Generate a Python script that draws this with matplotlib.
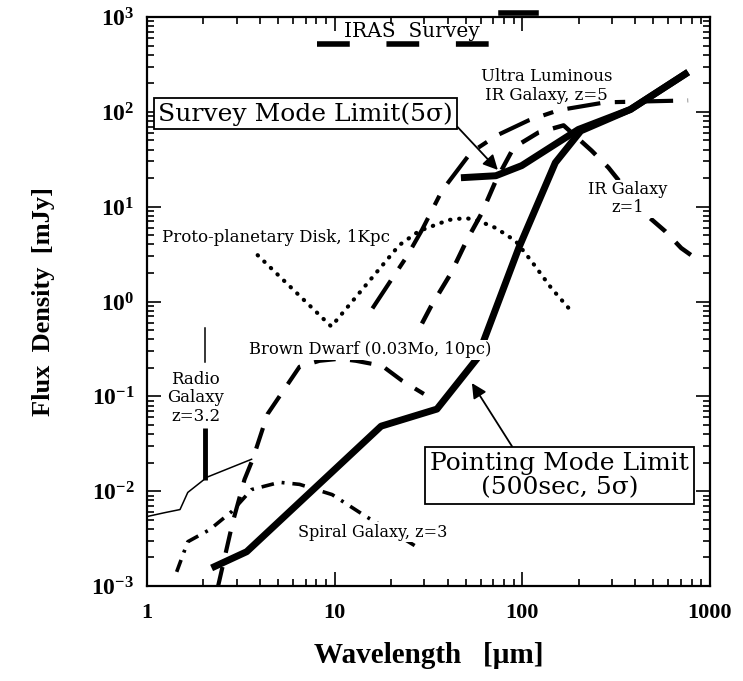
import numpy as np
import matplotlib.pyplot as plt

plt.rcParams['mathtext.fontset'] = 'custom'
plt.rcParams['mathtext.rm'] = 'Liberation Serif'
plt.rcParams['mathtext.bf'] = 'Liberation Serif:bold'

# wavelength [um] / flux density [mJy]
pointing_x = [2.21, 3.40, 17.7, 35.1, 57.3, 95.7, 150, 205, 377, 765]
pointing_y = [0.00155, 0.0023, 0.0485, 0.0734, 0.249, 3.66, 29.1, 63, 106, 262]

survey_x = [47.1, 72.3, 99.3, 199, 377, 765]
survey_y = [20.2, 21.2, 27.1, 65.2, 106, 262]

radio_x = [1.0, 1.246, 1.50, 1.65, 1.96, 2.08, 3.61]
radio_y = [0.0054, 0.00594, 0.0064, 0.0097, 0.0127, 0.014, 0.0217]
radio_bar_x = [2.03, 2.03]
radio_bar_y = [0.013, 0.046]
radio_tick_y = [0.23, 0.52]

brown_x = [2.38, 2.86, 3.31, 3.66, 4.39, 5.27, 6.5, 8.3, 10.6, 13.0, 17.9, 22.9, 29.9]
brown_y = [0.00095, 0.00465, 0.0133, 0.0217, 0.065, 0.111, 0.205, 0.237, 0.249, 0.237, 0.21, 0.146, 0.106]

spiral_x = [1.44, 1.65, 2.16, 2.83, 3.61, 5.09, 6.5, 9.7, 14.7, 19.5, 28.2]
spiral_y = [0.00141, 0.00293, 0.00393, 0.0061, 0.0104, 0.0124, 0.0118, 0.0092, 0.0054, 0.0039, 0.0025]

disk_x = [3.89, 9.6, 22.1, 28.2, 40.6, 50, 58.7, 72.3, 92.2, 112, 143, 183]
disk_y = [3.08, 0.545, 3.93, 5.54, 7.25, 7.6, 7.07, 5.96, 4.34, 2.66, 1.38, 0.786]

ulirg_x = [15.9, 20.3, 24.3, 29.2, 37.3, 53.2, 73.1, 108, 156, 277, 765]
ulirg_y = [0.845, 1.76, 3.0, 5.68, 14.7, 37.2, 56.4, 81.3, 104, 126, 132]

irgal_x = [29.2, 32.6, 41.7, 50.7, 60.9, 72.3, 90, 122, 166, 234, 288, 458, 578, 703, 865]
irgal_y = [0.586, 0.887, 1.99, 4.45, 8.6, 18.8, 42, 60.6, 72, 39, 25.8, 8.2, 5.5, 3.66, 2.73]

iras_x = [8.1, 68.8]
iras_y = [520, 520]
iras_top_x = [76.8, 119]
iras_top_y = [1100, 1100]

fig = plt.figure(figsize=(7.43, 6.81), dpi=100)
ax = fig.add_axes([0.1978, 0.1395, 0.7577, 0.8355])
ax.set_xscale('log')
ax.set_yscale('log')
ax.set_xlim(1, 1000)
ax.set_ylim(1e-3, 1e3)

ax.plot(pointing_x, pointing_y, color='black', lw=5, solid_capstyle='butt', zorder=5)
ax.plot(survey_x, survey_y, color='black', lw=5, solid_capstyle='butt', zorder=5)
ax.plot(radio_x, radio_y, color='black', lw=1.1)
ax.plot(radio_bar_x, radio_bar_y, color='black', lw=3.5, solid_capstyle='butt')
ax.plot(radio_bar_x, radio_tick_y, color='black', lw=1.1)
ax.plot(brown_x, brown_y, color='black', lw=3, linestyle=(0, (5.2, 3.5)))
ax.plot(spiral_x, spiral_y, color='black', lw=2.6, linestyle=(0, (3.5, 2.2, 0.8, 2.2)))
ax.plot(disk_x, disk_y, color='black', lw=3, linestyle=(0, (0.1, 2.1)),
        dash_capstyle='round')
ax.plot(ulirg_x, ulirg_y, color='black', lw=3, linestyle=(0, (8, 3.5, 2.5, 3.5)))
ax.plot(irgal_x, irgal_y, color='black', lw=3.2, linestyle=(0, (4.5, 3.3)))
ax.plot(iras_x, iras_y, color='black', lw=4, linestyle=(0, (5.9, 6.6)), solid_capstyle='butt')
ax.plot(iras_top_x, iras_top_y, color='black', lw=4, clip_on=False)

tf = dict(family='DejaVu Serif', color='black')
wb = dict(boxstyle='square,pad=0.08', fc='white', ec='none')
ax.text(25.8, 700, 'IRAS  Survey', fontsize=14.5, ha='center', va='center', **tf)
ax.text(135, 188, 'Ultra Luminous\nIR Galaxy, z=5', fontsize=12, ha='center',
        va='center', linespacing=1.1, **tf)
ax.text(365, 12.1, 'IR Galaxy\nz=1', fontsize=11.7, ha='center', va='center',
        linespacing=1.1, bbox=wb, zorder=6, **tf)
ax.text(1.2, 4.69, 'Proto-planetary Disk, 1Kpc', fontsize=12, ha='left',
        va='center', **tf)
ax.text(3.5, 0.31, 'Brown Dwarf (0.03Mo, 10pc)', fontsize=11.8, ha='left', va='center',
        bbox=wb, zorder=6, **tf)
ax.text(1.82, 0.0962, 'Radio\nGalaxy\nz=3.2', fontsize=12, ha='center', va='center',
        linespacing=1.1, **tf)
ax.text(6.37, 0.00371, 'Spiral Galaxy, z=3', fontsize=11.5, ha='left', va='center',
        bbox=wb, zorder=6, **tf)

ax.annotate('Survey Mode Limit(5σ)', xy=(74.1, 24.4), xytext=(7.0, 95.3),
            fontsize=18, ha='center', va='center', family='DejaVu Serif',
            bbox=dict(boxstyle='square,pad=0.15', fc='white', ec='black', lw=1.3),
            arrowprops=dict(arrowstyle='-|>', color='black', lw=1.3,
                            mutation_scale=22, relpos=(1.0, 0.15), shrinkA=0, shrinkB=0),
            zorder=7)
ax.annotate('Pointing Mode Limit\n(500sec, 5σ)', xy=(53.9, 0.138), xytext=(158.6, 0.0145),
            fontsize=18, ha='center', va='center', family='DejaVu Serif',
            linespacing=1.05,
            bbox=dict(boxstyle='square,pad=0.2', fc='white', ec='black', lw=1.3),
            arrowprops=dict(arrowstyle='-|>', color='black', lw=1.3,
                            mutation_scale=22, relpos=(0.33, 1.0), shrinkA=0, shrinkB=0),
            zorder=7)

ax.tick_params(which='both', direction='in', top=True, right=True, width=1.2)
ax.tick_params(which='major', length=10)
ax.tick_params(which='minor', length=5)
ax.tick_params(axis='x', which='major', pad=12)
ax.tick_params(axis='y', which='major', pad=9)
ax.set_xticks([1, 10, 100, 1000])
ax.set_xticklabels(['1', '10', '100', '1000'], family='Liberation Serif',
                   fontweight='bold', fontsize=16)
ax.set_yticks([10.0 ** e for e in range(-3, 4)])
ax.set_yticklabels([r'$\mathbf{10^{%d}}$' % e for e in range(-3, 4)], fontsize=17)
for s in ax.spines.values():
    s.set_linewidth(1.6)

ax.set_xlabel('Wavelength   [µm]', family='Liberation Serif', fontweight='bold',
              fontsize=21, labelpad=14)
ax.set_ylabel('Flux  Density  [mJy]', family='Liberation Serif', fontweight='bold',
              fontsize=19, labelpad=26)

fig.savefig('out.png', dpi=100)
